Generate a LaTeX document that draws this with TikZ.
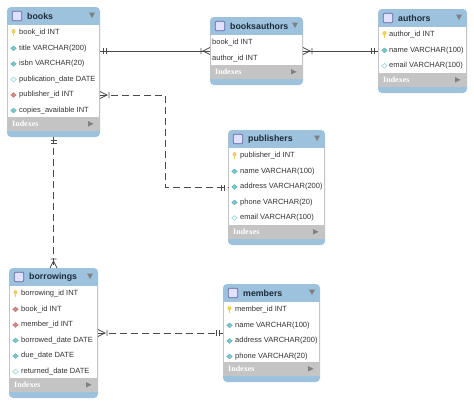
\documentclass[tikz,border=0pt]{standalone}
\usepackage{fontspec}
\setmainfont{Liberation Sans}
\newfontfamily\idxfont{Liberation Serif}
\usetikzlibrary{calc}
\definecolor{hdr}{HTML}{9CC2DD}
\definecolor{idx}{HTML}{C4C4C4}
\definecolor{ink}{HTML}{1E2A38}
\definecolor{conn}{HTML}{4A4A4A}
\definecolor{teal}{HTML}{74CBD0}
\definecolor{rd}{HTML}{D68A86}
\definecolor{keyy}{HTML}{EFCF55}
\tikzset{
  x=1pt,y=-1pt,
  boxnode/.style={rectangle,rounded corners=4pt,fill=hdr,inner sep=0pt,outer sep=0pt},
  rowtext/.style={anchor=west,inner sep=0pt,font=\fontsize{7.5}{9}\selectfont,text=black!80},
  titletext/.style={anchor=west,inner sep=0pt,font=\fontsize{8.8}{11}\selectfont\bfseries,text=ink},
  idxtext/.style={anchor=west,inner sep=0pt,font=\fontsize{8}{9}\selectfont\idxfont\bfseries,text=white},
  solidconn/.style={draw=conn,line width=0.75pt},
  dashconn/.style={draw=conn,line width=0.75pt,dash pattern=on 7pt off 4pt},
  pics/pkey/.style={code={
    \fill[keyy] (0,-1.5) ellipse (2pt and 2.2pt);
    \fill[keyy] (-0.8,-0.5) rectangle (0.8,3.4);}},
  pics/tealdot/.style={code={\draw[fill=teal,draw=teal!80!black,line width=0.3pt] (-2.8,0)--(0,-2.4)--(2.8,0)--(0,2.4)--cycle;}},
  pics/reddot/.style={code={\draw[fill=rd,draw=rd!80!black,line width=0.3pt] (-2.8,0)--(0,-2.4)--(2.8,0)--(0,2.4)--cycle;}},
  pics/whitedot/.style={code={\draw[fill=white,draw=teal,line width=0.4pt] (-2.8,0)--(0,-2.4)--(2.8,0)--(0,2.4)--cycle;}},
  pics/nodot/.style={code={}},
  pics/one/.style={code={
    \draw[conn,line width=0.75pt] (3.5,-3) -- (3.5,3) (6.5,-3) -- (6.5,3);}},
  pics/crow/.style={code={
    \draw[conn,line width=0.75pt] (0,-3.5) -- (7,0) -- (0,3.5) (9,-3) -- (9,3);}},
}
\newcommand{\entity}[8]{%
  % #1 name, #2 left, #3 top, #4 right, #5 bottom, #6 title, #7 text offset, #8 rows
  \node[boxnode,minimum width={(#4-#2)*1pt},minimum height={(#5-#3)*1pt}] (#1) at ({(#2+#4)/2},{(#3+#5)/2}) {};
  \fill[idx] (#2,#3+17.5) rectangle (#4,#5-6);
  \fill[white] (#2+1,#3+17.5) rectangle (#4-1,#5-20.5);
  \draw[draw=blue!45!black!60!white,fill=blue!12!white,line width=0.7pt,rounded corners=1pt] (#2+5.3,#3+4.3) rectangle (#2+14.7,#3+13.7);
  \node[titletext] (#1-title) at (#2+20,#3+9) {#6};
  \fill[gray] (#4-11,#3+5.5) -- (#4-5,#3+5.5) -- (#4-8,#3+11) -- cycle;
  \node[idxtext] (#1-idx) at (#2+5,#5-13) {Indexes};
  \fill[gray] (#4-12,#5-16) -- (#4-6.5,#5-13.2) -- (#4-12,#5-10.4) -- cycle;
  \foreach \k/\txt [count=\i from 0] in {#8} {
    \pic at ({#2+6.5},{#3+25.8+15.55*\i}) {\k};
    \node[rowtext] (#1-\i) at ({#2+#7},{#3+25.8+15.55*\i}) {\txt};
  }
}
\begin{document}
\begin{tikzpicture}
\useasboundingbox (0,0) rectangle (474,405);
\fill[white] (0,0) rectangle (474,405);
\entity{books}{7}{7}{100}{137}{books}{12}{pkey/book\_id INT,tealdot/title VARCHAR(200),tealdot/isbn VARCHAR(20),whitedot/publication\_date DATE,reddot/publisher\_id INT,tealdot/copies\_available INT}
\entity{booksauthors}{210}{17}{303}{85}{booksauthors}{2}{nodot/book\_id INT,nodot/author\_id INT}
\entity{authors}{378}{9}{467}{93}{authors}{11}{pkey/author\_id INT,tealdot/name VARCHAR(100),whitedot/email VARCHAR(100)}
\entity{publishers}{228}{130}{325}{245}{publishers}{12}{pkey/publisher\_id INT,tealdot/name VARCHAR(100),tealdot/address VARCHAR(200),tealdot/phone VARCHAR(20),whitedot/email VARCHAR(100)}
\entity{borrowings}{9}{268}{98}{398}{borrowings}{12}{pkey/borrowing\_id INT,reddot/book\_id INT,reddot/member\_id INT,tealdot/borrowed\_date DATE,tealdot/due\_date DATE,whitedot/returned\_date DATE}
\entity{members}{223}{284}{320}{382}{members}{12}{pkey/member\_id INT,tealdot/name VARCHAR(100),tealdot/address VARCHAR(200),tealdot/phone VARCHAR(20)}
% connectors
\draw[solidconn] (books.east |- booksauthors.center) -- (booksauthors.west);
\draw[solidconn] (booksauthors.east) -- (authors.west);
\draw[dashconn] (books.east |- books-4) -| ($(publishers.west)+(-63,0)$) -- (publishers.west);
\draw[dashconn] (books.south) -- (borrowings.north);
\draw[dashconn] (borrowings.east |- members.west) -- (members.west);
% ends
\pic at (books.east |- booksauthors.center) {one};
\pic[rotate=180] at (booksauthors.west) {crow};
\pic at (booksauthors.east) {crow};
\pic[rotate=180] at (authors.west) {one};
\pic at (books.east |- books-4) {crow};
\pic[rotate=180] at (publishers.west) {one};
\pic[rotate=-90] at (books.south) {one};
\pic[rotate=90] at (borrowings.north) {crow};
\pic at (borrowings.east |- members.west) {crow};
\pic[rotate=180] at (members.west) {one};
\end{tikzpicture}
\end{document}
